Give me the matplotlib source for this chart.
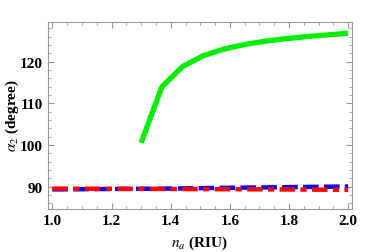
import numpy as np
import matplotlib.pyplot as plt

plt.rcParams['font.family'] = ['Liberation Serif', 'DejaVu Serif']
plt.rcParams['mathtext.fontset'] = 'stix'

# green curve
n_green = [1.30, 1.37, 1.44, 1.51, 1.58, 1.65, 1.72, 1.79, 1.86, 1.93, 2.00]
a_green = [100.5, 113.9, 118.8, 121.4, 123.0, 124.1, 124.9, 125.5, 126.0, 126.4, 126.8]

# blue and red curves
n_flat = [1.0, 1.2, 1.4, 1.6, 1.8, 2.0]
a_blue = [89.3, 89.4, 89.5, 89.7, 89.85, 90.0]
a_red = [89.5, 89.45, 89.4, 89.35, 89.3, 89.2]

fig = plt.figure(figsize=(3.74, 2.53), dpi=100)
ax = fig.add_axes([48/374, 1 - 210/253, 304/374, 187/253])

ax.plot(n_green, a_green, color='#00ee00', lw=3.8, solid_capstyle='butt')
ax.plot(n_flat, a_blue, color='#0000ff', lw=3.2, dashes=(3.5, 1.2))
ax.plot(n_flat, a_red, color='#ff0000', lw=3.2, dashes=(3.5, 1.2, 1.4, 1.2))

ax.set_xlim(0.985, 2.013)
ax.set_ylim(84.6, 129.5)
ax.set_xticks([1.0, 1.2, 1.4, 1.6, 1.8, 2.0])
ax.set_xticks(np.arange(1.0, 2.01, 0.05), minor=True)
ax.set_yticks([90, 100, 110, 120])
ax.set_yticks(np.arange(86, 130, 2), minor=True)

ax.tick_params(which='both', direction='in', top=True, right=True, color='#999999')
ax.tick_params(which='major', length=4, width=0.8, labelsize=11)
ax.tick_params(which='minor', length=2, width=0.6)
for lab in ax.get_xticklabels() + ax.get_yticklabels():
    lab.set_fontweight('bold')
for s in ax.spines.values():
    s.set_color('#999999')
    s.set_linewidth(0.8)

# axis labels placed in figure pixels
fig.text(199/374, 1 - 243/253, r'$n_a$ (RIU)', fontsize=11, fontweight='bold',
         ha='center', va='center')
fig.text(12/374, 1 - 116/253, r'$\alpha_2$ (degree)', fontsize=11, fontweight='bold',
         ha='center', va='center', rotation=90)

plt.savefig('out.png', dpi=100)
